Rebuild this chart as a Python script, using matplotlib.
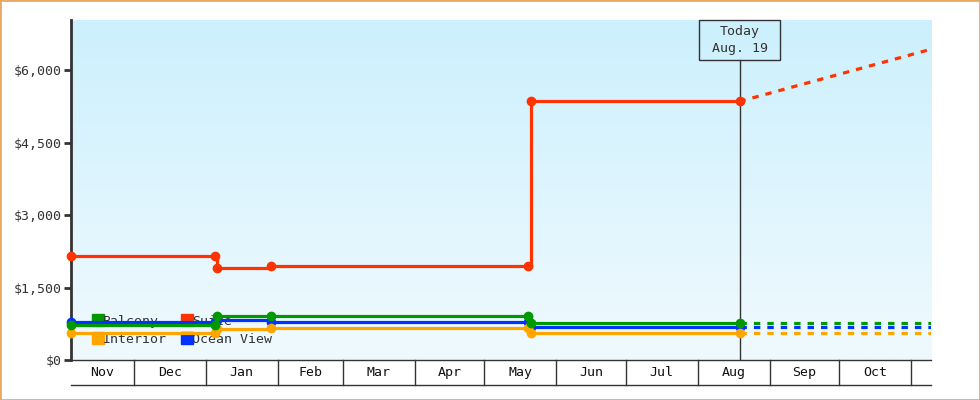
import matplotlib
matplotlib.use('Agg')
import matplotlib.pyplot as plt
import matplotlib.dates as mdates
from matplotlib.lines import Line2D
from matplotlib.patches import Rectangle
import numpy as np
from datetime import datetime

# observed fares (price per cabin type)
dates = ['2012-11-04', '2013-01-05', '2013-01-06', '2013-01-29',
         '2013-05-20', '2013-05-21', '2013-08-19']
balcony = [725, 725, 910, 910, 910, 765, 765]
interior = [559, 559, 641, 662, 662, 559, 559]
suite = [2150, 2150, 1900, 1950, 1950, 5350, 5350]
ocean_view = [786, 786, 828, 786, 786, 683, 683]

# forecast after today
forecast_dates = ['2013-08-19', '2013-11-09 12:00']
balcony_fc = [765, 765]
interior_fc = [559, 559]
suite_fc = [5350, 6430]
ocean_view_fc = [683, 683]

today = '2013-08-19'
today_label = 'Today\nAug. 19'
x_range = ['2012-11-04', '2013-11-09 12:00']
months = ['Nov', 'Dec', 'Jan', 'Feb', 'Mar', 'Apr', 'May', 'Jun', 'Jul', 'Aug', 'Sep', 'Oct']
month_starts = ['2012-11-01', '2012-12-01', '2013-01-01', '2013-02-01', '2013-03-01',
                '2013-04-01', '2013-05-01', '2013-06-01', '2013-07-01', '2013-08-01',
                '2013-09-01', '2013-10-01', '2013-11-01']
yticks = [0, 1500, 3000, 4500, 6000]


def d(s):
    return mdates.date2num(datetime.fromisoformat(s))


FONT = 'DejaVu Sans Mono'
TXT = '#333333'
YMAX = 7035

fig = plt.figure(figsize=(9.8, 4.0), dpi=100)
ax = fig.add_axes([71 / 980, 40 / 400, 860 / 980, 340 / 400])

x0, x1 = d(x_range[0]), d(x_range[1])
ax.set_xlim(x0, x1)
ax.set_ylim(0, YMAX)

# background gradient
top = np.array([204, 240, 253]) / 255
bot = np.array([240, 250, 254]) / 255
t = np.linspace(0, 1, 256)[:, None]
grad = top * (1 - t) + bot * t
ax.imshow(grad[:, None, :], extent=[0, 1, 0, 1], transform=ax.transAxes,
          aspect='auto', zorder=0)

series = [
    ('Ocean View', ocean_view, ocean_view_fc, '#0033ff'),
    ('Interior', interior, interior_fc, '#ffa500'),
    ('Balcony', balcony, balcony_fc, '#009900'),
    ('Suite', suite, suite_fc, '#ff3300'),
]

xs = [d(s) for s in dates]
xf = [d(s) for s in forecast_dates]
for i, (name, vals, fc, col) in enumerate(series):
    ax.plot(xf, fc, color=col, lw=2.3, ls=(0, (2, 2.2)), zorder=3 + i)
    ax.plot(xs, vals, color=col, lw=2.3, drawstyle='steps-post', zorder=3 + i)
    ax.plot(xs, vals, 'o', color=col, ms=6, zorder=3 + i, clip_on=False)

# today marker: box hangs from the top of the plot
xt = d(today)
box_w = 34.5          # days
box_bottom = YMAX * 300 / 340
ax.plot([xt, xt], [0, box_bottom], color=TXT, lw=1, zorder=2)
ax.add_patch(Rectangle((xt - box_w / 2, box_bottom), box_w, YMAX - box_bottom,
                       fill=False, ec=TXT, lw=1, zorder=8, clip_on=False))
ax.text(xt, (YMAX + box_bottom) / 2, today_label, ha='center', va='center', family=FONT,
        fontsize=9.5, color=TXT, linespacing=1.35, zorder=8)

# legend
order = ['Balcony', 'Interior', 'Suite', 'Ocean View']
colors = {n: c for n, _, _, c in series}
handles = [Line2D([], [], marker='s', ls='none', color=colors[n], ms=8) for n in order]
leg = ax.legend(handles, order, ncol=2, loc='lower left', bbox_to_anchor=(0.016, 0.015),
                frameon=False, prop={'family': FONT, 'size': 9.5}, handlelength=0.6,
                handletextpad=0.1, columnspacing=1.2, labelspacing=0.35, borderpad=0.2)
for txt in leg.get_texts():
    txt.set_color(TXT)
leg.set_zorder(2)

# axes styling
for s in ['top', 'right', 'bottom']:
    ax.spines[s].set_visible(False)
ax.spines['left'].set_color(TXT)
ax.spines['left'].set_linewidth(2)
ax.set_xticks([])
ax.set_yticks(yticks)
ax.set_yticklabels(['${:,}'.format(v) for v in yticks], family=FONT, fontsize=9.5, color=TXT)
ax.tick_params(axis='y', length=5, width=2, color=TXT, pad=2)

# month band under the plot
band = -25 / 340
trans = ax.get_xaxis_transform()
ax.plot([x0, x1], [0, 0], transform=trans, color=TXT, lw=1, clip_on=False)
ax.plot([x0, x1], [band, band], transform=trans, color=TXT, lw=1, clip_on=False)
ms = [d(s) for s in month_starts]
for m in ms:
    if x0 < m < x1:
        ax.plot([m, m], [0, band], transform=trans, color=TXT, lw=1, clip_on=False)
for i, lab in enumerate(months):
    a, b = max(ms[i], x0), min(ms[i + 1], x1)
    ax.text((a + b) / 2, band / 2, lab, transform=trans, ha='center', va='center',
            family=FONT, fontsize=9.5, color='#111111')

# frame around figure
fig.patches.append(Rectangle((0, 0), 1, 1, transform=fig.transFigure, fill=False,
                             ec='#eaa962', lw=2))

fig.savefig('out.png', dpi=100)
